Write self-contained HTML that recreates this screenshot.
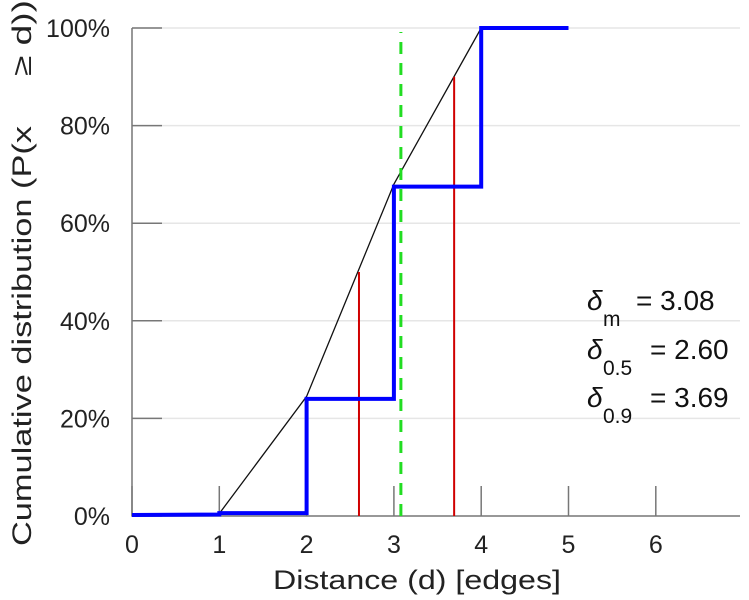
<!DOCTYPE html>
<html><head><meta charset="utf-8"><style>
body{margin:0;background:#fff;}
svg{display:block;font-family:"Liberation Sans","DejaVu Sans",sans-serif;}
</style></head><body>
<svg id="chart" width="749" height="600" viewBox="0 0 749 600" xmlns="http://www.w3.org/2000/svg">
<g id="grid"></g>
<g id="axes"></g>
<g id="marks"></g>
<text x="417" y="589" font-size="27" text-anchor="middle" fill="#222" textLength="288" lengthAdjust="spacingAndGlyphs">Distance (d) [edges]</text>
<g fill="#222" font-size="27">
<text transform="translate(31,546) rotate(-90)" textLength="420" lengthAdjust="spacingAndGlyphs">Cumulative distribution (P(x</text>
<text transform="translate(31,76) rotate(-90)" textLength="76" lengthAdjust="spacingAndGlyphs">≥ d))</text>
</g>
<g font-size="28" fill="#111">
<text x="587" y="310" font-style="italic">δ</text><text x="603" y="326" font-size="21">m</text><text x="636" y="310">= 3.08</text></g>
<g font-size="28" fill="#111">
<text x="587" y="359" font-style="italic">δ</text><text x="603" y="375" font-size="21">0.5</text><text x="650" y="359">= 2.60</text></g>
<g font-size="28" fill="#111">
<text x="587" y="407" font-style="italic">δ</text><text x="603" y="423" font-size="21">0.9</text><text x="650" y="407">= 3.69</text></g>
</svg>
<script>
const xTicks=[0,1,2,3,4,5,6];
const yTicks=[0,20,40,60,80,100];
const stepX=[0,1,1,2,2,3,3,4,4,5];
const stepY=[0.2,0.3,0.6,0.6,24,24,67.5,67.5,100,100];
const lineX=[1,2,3,4];
const lineY=[0.5,24.5,68,100];
const redX=[2.60,3.69];
const redY=[50,90];
const meanX=[3.08];
const NS="http://www.w3.org/2000/svg";
function sx(v){return 132+v*87.3;}
function sy(v){return 516-v*4.88;}
function mk(parent,tag,attrs){const e=document.createElementNS(NS,tag);for(const k in attrs)e.setAttribute(k,attrs[k]);document.getElementById(parent).appendChild(e);return e;}
yTicks.forEach(t=>{
 if(t>0){const g=mk('grid','line',{x1:132,x2:740,y1:sy(t),y2:sy(t),stroke:'#e6e6e6','stroke-width':1.5});
 
 }
 const tk=mk('axes','line',{x1:132,x2:162,y1:sy(t),y2:sy(t),stroke:'#777','stroke-width':1.5});
 
 
 const lb=mk('axes','text',{x:110,y:sy(t)+9,'font-size':25,'text-anchor':'end',fill:'#222'});
 lb.textContent=t+'%';
 
 
});
xTicks.forEach(t=>{
 const tk=mk('axes','line',{x1:sx(t),x2:sx(t),y1:516,y2:486,stroke:'#777','stroke-width':1.5});
 
 
 const lb=mk('axes','text',{x:sx(t),y:553,'font-size':25,'text-anchor':'middle',fill:'#222'});
 lb.textContent=t;
 
 
});
const ax=mk('axes','path',{d:'M132 28V516H740',fill:'none',stroke:'#777','stroke-width':1.5});


const bl=mk('marks','polyline',{points:lineX.map((x,i)=>sx(x)+','+sy(lineY[i])).join(' '),fill:'none',stroke:'#111','stroke-width':1.3});


redX.forEach((x,i)=>{
 const r=mk('marks','line',{x1:sx(x),x2:sx(x),y1:516,y2:sy(redY[i]),stroke:'#d00000','stroke-width':2});
 
 
});
meanX.forEach(x=>{
 const g=mk('marks','line',{x1:sx(x),x2:sx(x),y1:516,y2:32,stroke:'#22dd22','stroke-width':3,'stroke-dasharray':'12,9'});
 
 
});
const st=mk('marks','polyline',{points:stepX.map((x,i)=>sx(x)+','+sy(stepY[i])).join(' '),fill:'none',stroke:'#0000ff','stroke-width':4});


</script>
</body></html>
